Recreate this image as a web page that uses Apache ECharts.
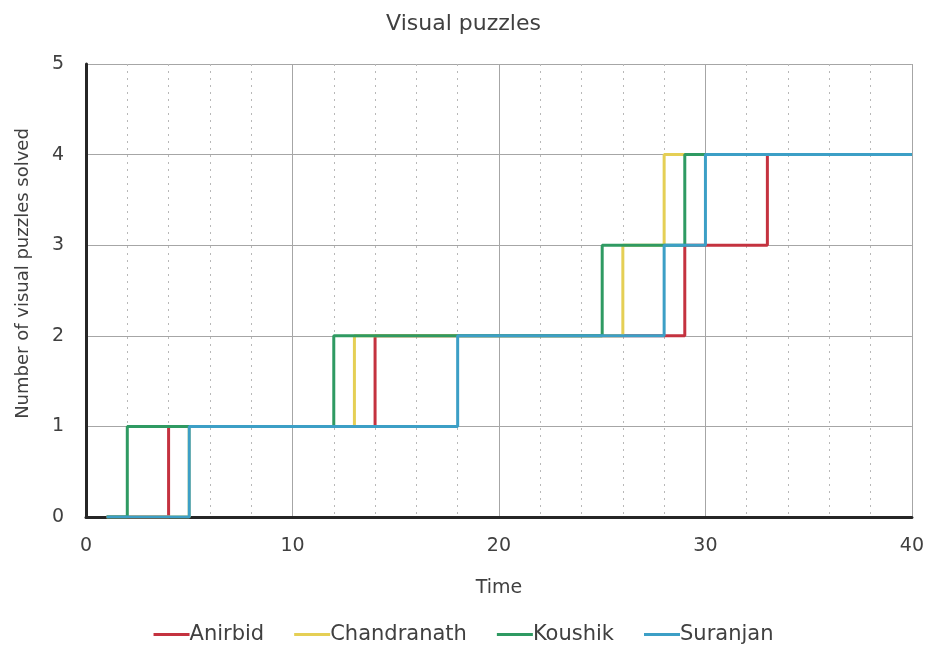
<!DOCTYPE html>
<html>
<head>
<meta charset="utf-8">
<script src="https://cdn.jsdelivr.net/npm/echarts@6/dist/echarts.min.js"></script>
<style>
  html, body { margin: 0; padding: 0; background: #fff; }
  #chart { width: 927px; height: 656px; }
</style>
</head>
<body>
<div id="chart"></div>
<script>
// puzzle counts reached at each step
var levels = [0, 1, 2, 3, 4, 4];

// times where each person's count goes up (first = start, last = end)
var anirbidTimes = [1, 4, 14, 29, 33, 40];
var chandranathTimes = [1, 5, 13, 26, 28, 40];
var koushikTimes = [1, 2, 12, 25, 29, 40];
var suranjanTimes = [1, 5, 18, 28, 30, 40];

var names = ['Anirbid', 'Chandranath', 'Koushik', 'Suranjan'];
var colors = ['#c4323f', '#e5cf55', '#2f9a62', '#3c9fc6'];

var font = "'DejaVu Sans', sans-serif";
var textColor = '#404040';

function pairs(times) {
    return times.map(function(t, i) {
        return [t, levels[i]];
    });
}

var allTimes = [anirbidTimes, chandranathTimes, koushikTimes, suranjanTimes];

var series = names.map(function(name, i) {
    return {
        name: name,
        type: 'line',
        step: 'end',
        showSymbol: false,
        data: pairs(allTimes[i]),
        lineStyle: { width: 3, color: colors[i] },
        itemStyle: { color: colors[i] }
    };
});

var myChart = echarts.init(document.getElementById('chart'));

var option = {
    animation: false,
    title: {
        text: 'Visual puzzles',
        left: 'center',
        top: 8,
        textStyle: {
            fontFamily: font,
            fontSize: 22,
            fontWeight: 'normal',
            color: textColor
        }
    },
    grid: {
        left: 86,
        right: 15,
        top: 64,
        bottom: 139
    },
    legend: {
        bottom: 6,
        left: 'center',
        icon: 'rect',
        itemWidth: 36,
        itemHeight: 3,
        itemGap: 30,
        textStyle: {
            fontFamily: font,
            fontSize: 21,
            color: textColor,
            padding: [0, 0, 0, -5]
        },
        data: names
    },
    xAxis: {
        type: 'value',
        min: 0,
        max: 40,
        interval: 10,
        name: 'Time',
        nameLocation: 'middle',
        nameGap: 62,
        nameTextStyle: { fontFamily: font, fontSize: 19, color: textColor },
        axisLine: { show: true, onZero: false, lineStyle: { color: '#262626', width: 3 } },
        axisTick: { show: false },
        axisLabel: { fontFamily: font, fontSize: 19, color: textColor, margin: 20 },
        splitLine: { show: true, lineStyle: { color: '#a6a6a6', width: 1 } },
        minorTick: { show: false, splitNumber: 5 },
        minorSplitLine: { show: true, lineStyle: { color: '#b8b8b8', type: [2, 5], width: 1 } }
    },
    yAxis: {
        type: 'value',
        min: 0,
        max: 5,
        interval: 1,
        name: 'Number of visual puzzles solved',
        nameLocation: 'middle',
        nameGap: 54,
        nameTextStyle: {
            fontFamily: font,
            fontSize: 18,
            color: textColor,
            padding: [0, 0, 0, 34]
        },
        axisLine: { show: true, lineStyle: { color: '#262626', width: 3 } },
        axisTick: { show: false },
        axisLabel: { fontFamily: font, fontSize: 19, color: textColor, margin: 22 },
        splitLine: { show: true, lineStyle: { color: '#a6a6a6', width: 1 } }
    },
    series: series
};

myChart.setOption(option);
</script>
</body>
</html>
